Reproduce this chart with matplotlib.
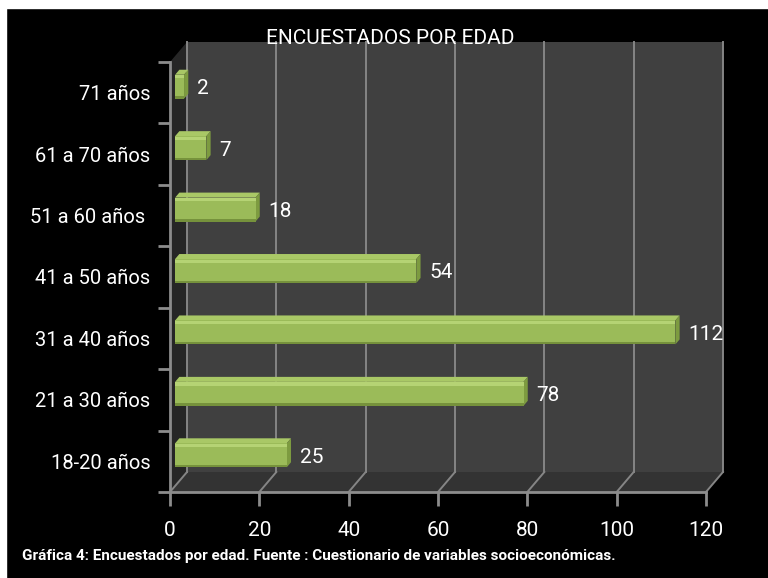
import numpy as np
import matplotlib
matplotlib.use("Agg")
import matplotlib.pyplot as plt
from matplotlib.patches import Polygon, Rectangle
from matplotlib.lines import Line2D
from matplotlib.transforms import Affine2D

plt.rcParams['font.family'] = ['Roboto', 'DejaVu Sans']

# data
categorias = ['18-20 años', '21 a 30 años', '31 a 40 años', '41 a 50 años',
              '51 a 60 años ', '61 a 70 años', '71 años']
encuestados = [25, 78, 112, 54, 18, 7, 2]
xticks = [0, 20, 40, 60, 80, 100, 120]

titulo = 'ENCUESTADOS POR EDAD'
pie = ('Gráfica 4: Encuestados por edad. Fuente : '
       'Cuestionario de variables socioeconómicas.')

W, H = 768, 578
fig = plt.figure(figsize=(W / 100, H / 100), dpi=100, facecolor='black')

# front plane of the 3d box, in pixels
left, right, bottom, top = 170, 706, 492, 62
ax = fig.add_axes([left / W, (H - bottom) / H, (right - left) / W, (bottom - top) / H])
ax.set_xlim(0, 120)
ax.set_ylim(-0.5, len(categorias) - 0.5)
ax.patch.set_visible(False)

DX, DY = 17, 20   # depth offset in pixels


def proj(x, y, d):
    px, py = ax.transData.transform((x, y))
    return px + DX * d, py + DY * d


def face(pts, color, z):
    p = Polygon([proj(*q) for q in pts], closed=True, transform=None,
                facecolor=color, edgecolor='none', zorder=z)
    p.set_clip_on(False)
    ax.add_artist(p)
    return p


y0, y1 = -0.5, len(categorias) - 0.5
# walls
face([(0, y0, 1), (120, y0, 1), (120, y1, 1), (0, y1, 1)], '#404040', 0)
face([(0, y0, 0), (120, y0, 0), (120, y0, 1), (0, y0, 1)], '#333333', 0)
face([(0, y0, 0), (0, y0, 1), (0, y1, 1), (0, y1, 0)], '#262626', 0)

grid_c = '#858585'
for gx in xticks:
    for a, b in [((gx, y0, 1), (gx, y1, 1)), ((gx, y0, 0), (gx, y0, 1))]:
        pa, pb = proj(*a), proj(*b)
        ln = Line2D([pa[0], pb[0]], [pa[1], pb[1]], transform=None,
                    color=grid_c, lw=1.4, zorder=1)
        ln.set_clip_on(False)
        ax.add_line(ln)

# bars with a shallow extrusion
d0, d1 = 0.3, 0.55
h = 0.39
ys = np.arange(len(categorias))
shift = Affine2D().translate(DX * d0, DY * d0)
ax.barh(ys, encuestados, height=h, color='#9bbb59', zorder=4,
        transform=ax.transData + shift)
ax.barh(ys - h / 2 + 0.02, encuestados, height=0.04, color='#76923c', zorder=5,
        transform=ax.transData + shift)
ax.barh(ys + h / 2 - 0.035, encuestados, height=0.05, color='#b5d374', zorder=5,
        transform=ax.transData + shift)
for yv, v in zip(ys, encuestados):
    face([(0, yv + h / 2, d0), (v, yv + h / 2, d0), (v, yv + h / 2, d1), (0, yv + h / 2, d1)],
         '#a9c866', 3)
    face([(v, yv - h / 2, d0), (v, yv + h / 2, d0), (v, yv + h / 2, d1), (v, yv - h / 2, d1)],
         '#7d9b40', 3)
    ax.annotate(str(v), xy=(v, yv), xytext=(DX * d0 + 13, DY * d0 - 2),
                textcoords='offset pixels', color='white', fontsize=15,
                va='center', ha='left', zorder=6, annotation_clip=False)

# front axes
for s in ['top', 'right']:
    ax.spines[s].set_visible(False)
for s in ['left', 'bottom']:
    ax.spines[s].set_color('#8c8c8c')
    ax.spines[s].set_linewidth(2)
    ax.spines[s].set_zorder(2)
ax.set_xticks(xticks)
ax.set_yticks(ys)
ax.set_yticklabels(categorias)
ax.set_yticks(np.arange(-0.5, len(categorias)), minor=True)
ax.tick_params(axis='x', colors='#8c8c8c', length=10, width=2, labelcolor='white',
               labelsize=15, pad=11)
ax.tick_params(axis='y', which='major', length=0, labelcolor='white',
               labelsize=14.5, pad=14)
ax.tick_params(axis='y', which='minor', colors='#8c8c8c', length=9, width=2)

fig.text(390 / W, 1 - 38 / H, titulo, color='white', fontsize=15,
         ha='center', va='center', zorder=10)
fig.text(22 / W, 1 - 556 / H, pie, color='white', fontsize=11,
         fontweight='bold', ha='left', va='center')

# white margin strips
fig.add_artist(Rectangle((0, 1 - 8 / H), 1, 8 / H, transform=fig.transFigure,
                         color='white', zorder=20))
fig.add_artist(Rectangle((0, 0), 6 / W, 1, transform=fig.transFigure,
                         color='white', zorder=20))

fig.savefig('out.png', dpi=100, facecolor='black')
